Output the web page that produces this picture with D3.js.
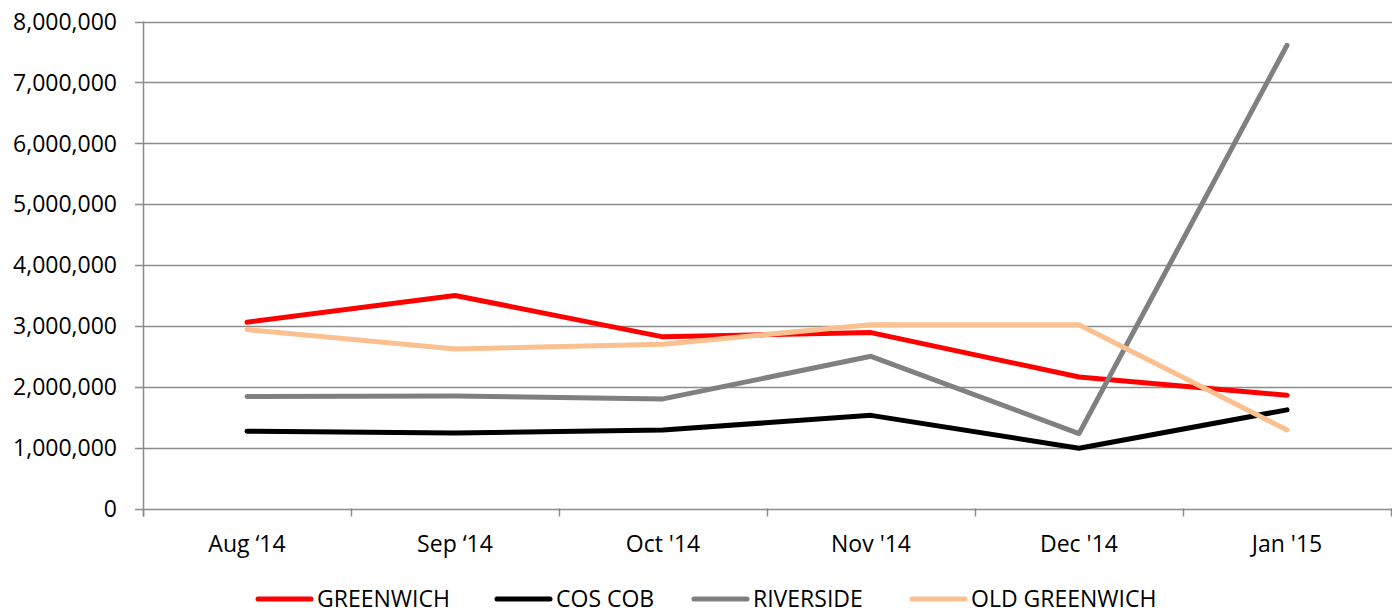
<!DOCTYPE html>
<html>
<head>
    <script src="https://d3js.org/d3.v7.min.js"></script>
    <style>
        body { margin: 0; background: #fff; }
        .tick-label { font-family: "Open Sans", sans-serif; font-size: 23px; fill: #000; }
        .legend-label { font-family: "Open Sans", sans-serif; font-size: 23px; fill: #000; }
    </style>
</head>
<body>
<div id="chart"></div>
<script>
    // Data
    var months = ["Aug \u201814", "Sep \u201814", "Oct '14", "Nov '14", "Dec '14", "Jan '15"];
    var seriesNames = ["GREENWICH", "COS COB", "RIVERSIDE", "OLD GREENWICH"];
    var seriesColors = ["#ff0000", "#000000", "#808080", "#fac090"];
    var greenwich = [3060000, 3500000, 2820000, 2890000, 2160000, 1860000];
    var cosCob = [1270000, 1240000, 1290000, 1530000, 990000, 1620000];
    var riverside = [1840000, 1850000, 1800000, 2500000, 1230000, 7610000];
    var oldGreenwich = [2940000, 2620000, 2700000, 3020000, 3020000, 1290000];
    var yTicks = [0, 1000000, 2000000, 3000000, 4000000, 5000000, 6000000, 7000000, 8000000];

    var allSeries = [greenwich, cosCob, riverside, oldGreenwich];

    var width = 1392, height = 612;
    var plotLeft = 143, plotRight = 1391, plotTop = 21.5, plotBottom = 508.5;

    var svg = d3.select("#chart").append("svg")
        .attr("width", width)
        .attr("height", height);

    var x = d3.scaleBand().domain(months).range([plotLeft, plotRight]);
    var y = d3.scaleLinear().domain([0, 8000000]).range([plotBottom, plotTop]);

    // Gridlines
    svg.selectAll(".grid")
        .data(yTicks)
        .enter().append("line")
        .attr("x1", plotLeft - 8)
        .attr("x2", width)
        .attr("y1", d => Math.round(y(d)) + 0.5)
        .attr("y2", d => Math.round(y(d)) + 0.5)
        .attr("stroke", "#8c8c8c")
        .attr("stroke-width", 1.5);

    // Y axis line
    svg.append("line")
        .attr("x1", plotLeft + 0.5).attr("x2", plotLeft + 0.5)
        .attr("y1", plotTop).attr("y2", plotBottom + 8)
        .attr("stroke", "#8c8c8c").attr("stroke-width", 1.5);

    // X ticks at band edges
    var edges = months.map(m => x(m)).concat([plotRight]);
    svg.selectAll(".xtick")
        .data(edges)
        .enter().append("line")
        .attr("x1", d => Math.round(d) + 0.5)
        .attr("x2", d => Math.round(d) + 0.5)
        .attr("y1", plotBottom)
        .attr("y2", plotBottom + 8)
        .attr("stroke", "#8c8c8c").attr("stroke-width", 1.5);

    // Y labels
    svg.selectAll(".ylabel")
        .data(yTicks)
        .enter().append("text")
        .attr("class", "tick-label")
        .attr("x", 117)
        .attr("y", d => y(d))
        .attr("dy", "0.36em")
        .attr("text-anchor", "end")
        .text(d => d3.format(",")(d));

    // X labels
    svg.selectAll(".xlabel")
        .data(months)
        .enter().append("text")
        .attr("class", "tick-label")
        .attr("x", d => x(d) + x.bandwidth() / 2)
        .attr("y", 552)
        .attr("text-anchor", "middle")
        .text(d => d);

    // Lines
    var line = d3.line()
        .x((d, i) => x(months[i]) + x.bandwidth() / 2)
        .y(d => y(d));

    allSeries.forEach((s, i) => {
        svg.append("path")
            .datum(s)
            .attr("d", line)
            .attr("fill", "none")
            .attr("stroke", seriesColors[i])
            .attr("stroke-width", 5)
            .attr("stroke-linecap", "round")
            .attr("stroke-linejoin", "round");
    });

    // Legend
    var legendX = [258, 497, 694, 912];
    seriesNames.forEach((name, i) => {
        svg.append("line")
            .attr("x1", legendX[i]).attr("x2", legendX[i] + 53)
            .attr("y1", 599).attr("y2", 599)
            .attr("stroke", seriesColors[i])
            .attr("stroke-width", 5)
            .attr("stroke-linecap", "round");
        svg.append("text")
            .attr("class", "legend-label")
            .attr("x", legendX[i] + 59)
            .attr("y", 599)
            .attr("dy", "0.36em")
            .text(name);
    });
</script>
</body>
</html>
